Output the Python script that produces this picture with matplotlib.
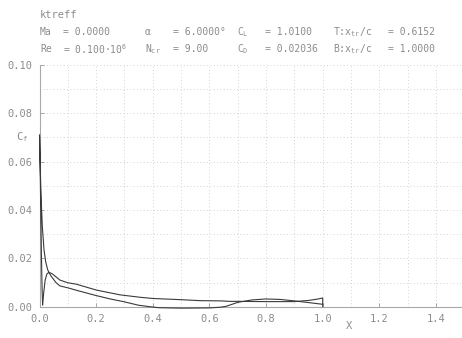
import matplotlib
matplotlib.use("Agg")
import matplotlib.pyplot as plt
from matplotlib.ticker import MultipleLocator

plt.rcParams["font.family"] = "DejaVu Sans Mono"
plt.rcParams["mathtext.fontset"] = "custom"
plt.rcParams["mathtext.rm"] = "DejaVu Sans Mono"
plt.rcParams["mathtext.it"] = "DejaVu Sans Mono"

TEXT = "#8c8c8c"
LINE = "#3a3a3a"

# upper surface Cf, starting at the stagnation point and going round the LE
x_top = [0.011, 0.009, 0.007, 0.005, 0.003, 0.0015, 0.0005, 0.0, 0.001, 0.003,
         0.006, 0.010, 0.016, 0.022, 0.029, 0.040, 0.058, 0.072, 0.100, 0.130,
         0.200, 0.250, 0.300, 0.350, 0.390, 0.420, 0.500, 0.600, 0.640, 0.660,
         0.680, 0.700, 0.750, 0.800, 0.850, 0.900, 0.950, 1.000]
cf_top = [0.0008, 0.008, 0.020, 0.035, 0.052, 0.064, 0.070, 0.071, 0.066, 0.056,
          0.044, 0.033, 0.0234, 0.0185, 0.0152, 0.0128, 0.0100, 0.0086, 0.0078, 0.0068,
          0.0046, 0.0032, 0.0020, 0.0006, 0.0000, -0.0004, -0.0006, -0.0005, -0.0002, 0.0002,
          0.0010, 0.0018, 0.0028, 0.0032, 0.0030, 0.0024, 0.0017, 0.0010]

# lower surface Cf (laminar to the trailing edge)
x_bot = [0.011, 0.015, 0.020, 0.026, 0.033, 0.045, 0.072, 0.100, 0.130, 0.200,
         0.284, 0.355, 0.400, 0.500, 0.567, 0.640, 0.673, 0.710, 0.800, 0.900,
         0.950, 0.980, 1.000, 1.000]
cf_bot = [0.0008, 0.0060, 0.0110, 0.0135, 0.0142, 0.0136, 0.0110, 0.0099, 0.0093, 0.0069,
          0.0049, 0.0039, 0.0034, 0.0029, 0.0025, 0.0024, 0.0022, 0.0022, 0.0021, 0.0021,
          0.0026, 0.0031, 0.0036, 0.0000]

x_ticks = [0.0, 0.2, 0.4, 0.6, 0.8, 1.0, 1.2, 1.4]
y_ticks = [0.00, 0.02, 0.04, 0.06, 0.08, 0.10]

# run parameters: (label, value) per row, one column each
row1 = [("Ma", "= 0.0000"), ("α", "= 6.0000°"),
        (r"C$_L$", "= 1.0100"), (r"T:x$_{tr}$/c", "= 0.6152")]
row2 = [("Re", r"= 0.100·10$^6$"), (r"N$_{cr}$", "= 9.00"),
        (r"C$_D$", "= 0.02036"), (r"B:x$_{tr}$/c", "= 1.0000")]
label_x = [40, 145, 237, 333]
value_x = [63, 173, 265, 388]


def main():
    W, H = 462, 338
    fig = plt.figure(figsize=(W / 100, H / 100), dpi=100)
    ax = fig.add_axes([39.5 / W, 1 - 306.7 / H, 424.8 / W, 242 / H])

    ax.set_xlim(0, 1.5)
    ax.set_ylim(0, 0.1)

    ax.xaxis.set_minor_locator(MultipleLocator(0.1))
    ax.yaxis.set_minor_locator(MultipleLocator(0.01))
    ax.set_xticks(x_ticks)
    ax.set_yticks(y_ticks)
    ax.set_xticklabels([f"{v:.1f}" for v in x_ticks])
    ax.set_yticklabels([f"{v:.2f}" for v in y_ticks])

    ax.grid(True, which="both", color="#c4c4c4", linestyle=(0, (1, 3)), linewidth=0.6)
    ax.tick_params(which="major", direction="in", length=3, width=0.6, color="#999999",
                   labelsize=7.5, labelcolor=TEXT, pad=5)
    ax.tick_params(which="minor", length=0)

    for side in ("top", "right"):
        ax.spines[side].set_visible(False)
    for side in ("left", "bottom"):
        ax.spines[side].set_color("#a8a8a8")
        ax.spines[side].set_linewidth(0.8)

    # the separated region dips just below zero, so don't clip to the axes
    ax.plot(x_top, cf_top, color=LINE, linewidth=0.8, zorder=3, clip_on=False)
    ax.plot(x_bot, cf_bot, color=LINE, linewidth=0.8, zorder=3, clip_on=False)

    fig.text(40 / W, 1 - 15 / H, "ktreff", fontsize=7.5, color=TEXT, va="center", ha="left")
    for y, row in ((32, row1), (49, row2)):
        for (lab, val), lx, vx in zip(row, label_x, value_x):
            fig.text(lx / W, 1 - y / H, lab, fontsize=7, color=TEXT, va="center", ha="left")
            fig.text(vx / W, 1 - y / H, val, fontsize=7, color=TEXT, va="center", ha="left")

    fig.text(22 / W, 1 - 137 / H, r"C$_f$", fontsize=7.5, color=TEXT, va="center", ha="center")
    fig.text(349 / W, 1 - 326 / H, "X", fontsize=7.5, color=TEXT, va="center", ha="center")

    fig.savefig("out.png", dpi=100)
    plt.close(fig)


if __name__ == "__main__":
    main()
